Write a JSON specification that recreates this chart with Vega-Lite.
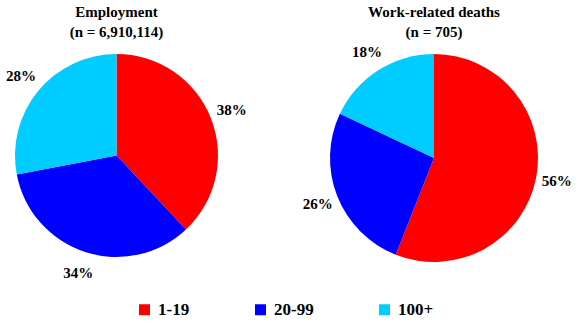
{
  "$schema": "https://vega.github.io/schema/vega-lite/v6.json",
  "background": "white",
  "padding": {"left": 5, "top": 5, "right": 0, "bottom": 0},
  "data": {"values": [
    {"panel": "Employment", "size": "1-19", "o": 1, "share": 0.38},
    {"panel": "Employment", "size": "20-99", "o": 2, "share": 0.34},
    {"panel": "Employment", "size": "100+", "o": 3, "share": 0.28},
    {"panel": "Deaths", "size": "1-19", "o": 1, "share": 0.56},
    {"panel": "Deaths", "size": "20-99", "o": 2, "share": 0.26},
    {"panel": "Deaths", "size": "100+", "o": 3, "share": 0.18}
  ]},
  "config": {
    "view": {"stroke": null},
    "font": "Liberation Serif",
    "title": {"font": "Liberation Serif", "fontSize": 15, "fontWeight": "bold", "color": "black", "anchor": "middle", "lineHeight": 20},
    "legend": {
      "orient": "none", "legendX": 121, "legendY": 247, "direction": "horizontal", "columns": 3,
      "symbolType": "square", "symbolSize": 121, "symbolStrokeWidth": 0, "symbolOpacity": 1,
      "labelFont": "Liberation Serif", "labelFontSize": 17, "labelFontWeight": "bold", "labelColor": "black",
      "columnPadding": 62, "labelOffset": 5, "title": null
    }
  },
  "bounds": "flush",
  "spacing": 112,
  "resolve": {"scale": {"color": "shared"}, "legend": {"color": "shared"}},
  "hconcat": [
    {
      "title": {"text": ["Employment", "(n = 6,910,114)"], "offset": 14},
      "width": 203, "height": 203,
      "transform": [{"filter": "datum.panel === 'Employment'"}],
      "layer": [
        {
          "mark": {"type": "arc"},
          "encoding": {
            "theta": {"field": "share", "type": "quantitative", "stack": true},
            "color": {"field": "size", "type": "nominal", "scale": {"domain": ["1-19", "20-99", "100+"], "range": ["#FF0000", "#0000FF", "#00CCFF"]}, "title": null},
            "order": {"field": "o", "type": "quantitative"}
          }
        },
        {
          "mark": {"type": "text", "radius": 124, "fontSize": 15, "fontWeight": "bold", "font": "Liberation Serif", "color": "black"},
          "encoding": {
            "theta": {"field": "share", "type": "quantitative", "stack": true},
            "detail": {"field": "size", "type": "nominal"},
            "order": {"field": "o", "type": "quantitative"},
            "text": {"field": "share", "type": "quantitative", "format": ".0%"}
          }
        }
      ]
    },
    {
      "title": {"text": ["Work-related deaths", "(n = 705)"], "offset": 5},
      "width": 208, "height": 208,
      "transform": [{"filter": "datum.panel === 'Deaths'"}],
      "layer": [
        {
          "mark": {"type": "arc"},
          "encoding": {
            "theta": {"field": "share", "type": "quantitative", "stack": true},
            "color": {"field": "size", "type": "nominal", "scale": {"domain": ["1-19", "20-99", "100+"], "range": ["#FF0000", "#0000FF", "#00CCFF"]}, "title": null},
            "order": {"field": "o", "type": "quantitative"}
          }
        },
        {
          "mark": {"type": "text", "radius": 125, "fontSize": 15, "fontWeight": "bold", "font": "Liberation Serif", "color": "black"},
          "encoding": {
            "theta": {"field": "share", "type": "quantitative", "stack": true},
            "detail": {"field": "size", "type": "nominal"},
            "order": {"field": "o", "type": "quantitative"},
            "text": {"field": "share", "type": "quantitative", "format": ".0%"}
          }
        }
      ]
    }
  ]
}
